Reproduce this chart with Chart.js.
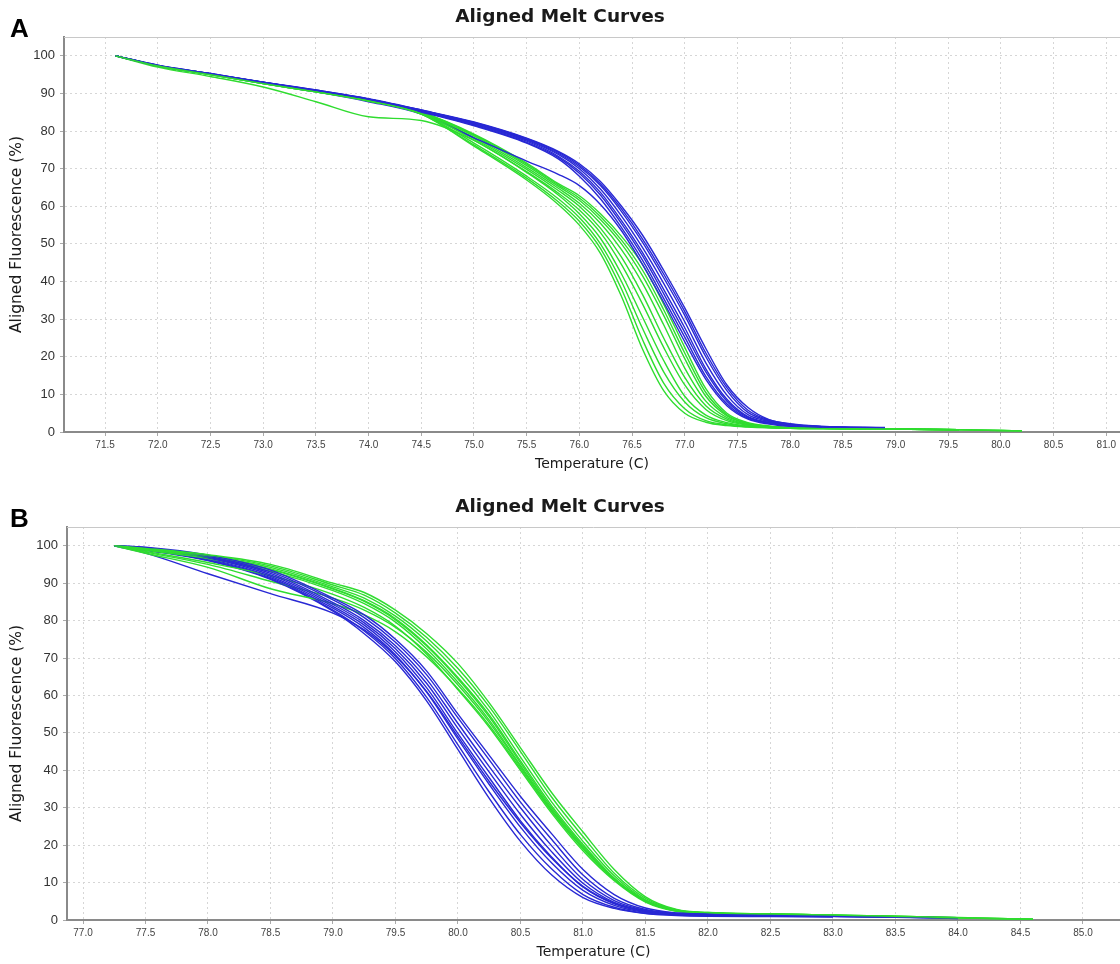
<!DOCTYPE html>
<html><head><meta charset="utf-8">
<script src="https://cdn.jsdelivr.net/npm/chart.js@4.4.0/dist/chart.umd.min.js"></script>
<style>
html,body{margin:0;padding:0;background:#fff;width:1120px;height:964px;overflow:hidden}
.wrap{position:absolute;left:0;width:1120px}
canvas{display:block}
</style></head><body>
<div class="wrap" style="top:0;height:482px"><canvas id="chartA" width="1120" height="482"></canvas></div>
<div class="wrap" style="top:490px;height:474px"><canvas id="chartB" width="1120" height="474"></canvas></div>
<script>
// ---------- Panel A data ----------
const tempsA = [71.6, 72.0, 72.5, 73.0, 73.5, 74.0, 74.5, 75.0, 75.5, 75.8, 76.0, 76.2, 76.4, 76.6, 76.8, 77.0, 77.2, 77.4, 77.6, 77.8, 78.0, 78.3, 78.9, 79.6, 80.2];
const blueA1 = [100, 97.4, 95.2, 92.9, 90.8, 88.4, 85.3, 81.8, 77.3, 73.3, 69.3, 63.7, 56.2, 47.7, 37.9, 27.7, 16.8, 8.7, 4.1, 2.6, 1.8, 1.3, 1.0, null, null];
const blueA2 = [100, 97.5, 95.3, 93.0, 90.9, 88.6, 85.6, 82.2, 77.8, 74.1, 70.5, 65.5, 58.6, 50.4, 41.0, 31.0, 20.0, 11.0, 5.2, 3.0, 2.0, 1.4, 1.1, null, null];
const blueA3 = [100, 97.3, 95.1, 92.9, 90.7, 88.5, 85.6, 82.4, 78.1, 74.6, 71.3, 66.6, 60.0, 52.3, 43.0, 33.0, 22.2, 12.5, 6.5, 3.3, 2.2, 1.5, 1.2, null, null];
const blueA4 = [100, 97.4, 95.2, 92.8, 90.6, 88.2, 85.0, 81.4, 76.8, 72.6, 68.0, 62.0, 54.3, 45.6, 35.5, 25.2, 14.8, 7.5, 3.6, 2.3, 1.6, 1.2, null, null, null];
const blueA5 = [100, 97.3, 95.0, 92.6, 90.4, 87.8, 84.5, 78.2, 72.0, 68.5, 65.5, 60.5, 53.5, 44.5, 34.5, 24.0, 14.0, 7.0, 3.4, 2.1, 1.5, 1.1, null, null, null];
const blueA6 = [100, 97.5, 95.3, 93.0, 90.9, 88.5, 85.4, 82.0, 77.6, 73.8, 70.0, 64.6, 57.4, 49.0, 39.5, 29.3, 18.4, 9.8, 4.6, 2.8, 1.9, 1.4, 1.0, null, null];
const blueA7 = [100, 97.4, 95.1, 92.8, 90.7, 88.3, 85.2, 81.6, 77.0, 73.0, 68.8, 63.0, 55.4, 46.8, 36.8, 26.5, 16.0, 8.2, 3.9, 2.5, 1.7, 1.3, 1.0, null, null];
const blueA8 = [100, 97.4, 95.2, 93.0, 90.8, 88.5, 85.5, 82.3, 78.0, 74.4, 70.9, 66.0, 59.3, 51.3, 42.0, 32.0, 21.0, 11.8, 5.8, 3.2, 2.1, 1.5, 1.1, null, null];
const greenA1 = [100, 97.3, 95.0, 92.6, 90.4, 88.0, 84.5, 76.0, 67.0, 60.5, 55.0, 47.5, 36.0, 22.0, 11.0, 5.0, 2.6, 1.7, 1.3, 1.1, 1.0, 0.9, 0.8, 0.6, null];
const greenA2 = [100, 97.3, 95.0, 92.6, 90.4, 88.0, 84.5, 76.3, 67.5, 61.2, 56.0, 48.8, 38.0, 24.5, 13.0, 6.2, 3.0, 1.9, 1.4, 1.2, 1.0, 0.9, 0.8, 0.6, null];
const greenA3 = [100, 97.3, 95.0, 92.6, 90.4, 88.1, 84.6, 76.8, 68.0, 62.0, 57.0, 50.0, 40.0, 27.5, 16.0, 8.0, 3.8, 2.2, 1.5, 1.2, 1.0, 0.9, 0.8, null, null];
const greenA4 = [100, 97.0, 94.5, 91.7, 87.8, 83.8, 82.8, 77.5, 69.0, 63.0, 58.0, 51.5, 42.0, 30.5, 19.0, 9.5, 4.5, 2.5, 1.6, 1.2, 1.0, 0.9, 0.8, 0.6, null];
const greenA5 = [100, 97.4, 95.1, 92.7, 90.5, 88.2, 84.8, 77.6, 69.2, 63.5, 59.0, 53.0, 44.5, 34.0, 22.5, 12.5, 6.0, 3.0, 1.8, 1.3, 1.1, 1.0, 0.8, 0.6, null];
const greenA6 = [100, 97.3, 95.1, 92.8, 90.6, 88.3, 84.9, 78.0, 69.8, 64.2, 60.0, 54.2, 46.5, 36.5, 25.0, 14.5, 7.0, 3.4, 1.9, 1.4, 1.1, 1.0, 0.8, null, null];
const greenA7 = [100, 97.4, 95.2, 92.8, 90.6, 88.3, 84.9, 78.3, 70.3, 64.8, 60.8, 55.5, 48.5, 39.5, 28.5, 17.0, 8.2, 3.8, 2.0, 1.4, 1.1, 1.0, 0.8, 0.6, 0.3];
const greenA8 = [100, 97.4, 95.2, 92.9, 90.7, 88.4, 85.0, 78.7, 70.8, 65.3, 61.6, 56.5, 50.0, 41.5, 31.0, 19.5, 9.5, 4.3, 2.2, 1.5, 1.1, 1.0, 0.8, 0.6, null];
const greenA9 = [100, 97.4, 95.2, 92.9, 90.7, 88.4, 85.0, 79.0, 71.2, 65.7, 62.2, 57.3, 51.0, 43.0, 32.5, 21.0, 10.5, 4.6, 2.3, 1.5, 1.2, 1.0, 0.8, 0.6, 0.3];
const greenA10 = [100, 97.4, 95.2, 92.9, 90.7, 88.4, 85.0, 79.2, 71.5, 66.0, 62.8, 58.0, 52.0, 44.5, 34.0, 22.5, 11.5, 5.0, 2.5, 1.6, 1.2, 1.0, 0.8, 0.6, 0.3];
const xTicksA = [71.5, 72.0, 72.5, 73.0, 73.5, 74.0, 74.5, 75.0, 75.5, 76.0, 76.5, 77.0, 77.5, 78.0, 78.5, 79.0, 79.5, 80.0, 80.5, 81.0];

// ---------- Panel B data ----------
const tempsB = [77.25, 77.5, 78.0, 78.5, 79.0, 79.25, 79.5, 79.75, 80.0, 80.25, 80.5, 80.75, 81.0, 81.25, 81.5, 81.75, 82.0, 82.5, 83.0, 83.5, 84.0, 84.6];
const blueB1 = [100, 99.6, 97.5, 93.5, 86.0, 81.5, 75.0, 66.5, 55.0, 44.0, 33.0, 23.0, 13.5, 6.8, 3.2, 1.9, 1.6, 1.4, 1.1, 0.8, 0.5, null];
const blueB2 = [100, 99.5, 97.2, 93.0, 85.5, 80.8, 74.2, 65.5, 54.0, 42.8, 31.5, 21.5, 12.0, 5.8, 2.8, 1.8, 1.5, 1.3, 1.0, 0.8, null, null];
const blueB3 = [100, 99.4, 97.0, 92.6, 84.8, 80.0, 73.3, 64.3, 52.5, 41.0, 30.0, 19.8, 10.8, 5.2, 2.6, 1.7, 1.5, 1.3, 1.1, 0.9, 0.6, null];
const blueB4 = [100, 99.3, 96.8, 92.2, 84.3, 79.4, 72.5, 63.2, 51.2, 39.5, 28.2, 18.2, 9.8, 4.7, 2.4, 1.6, 1.4, 1.2, 1.0, null, null, null];
const blueB5 = [100, 99.1, 96.5, 91.8, 83.8, 78.8, 71.6, 62.0, 49.8, 38.0, 26.5, 16.8, 8.8, 4.3, 2.2, 1.5, 1.3, 1.2, 1.0, 0.8, 0.5, null];
const blueB6 = [100, 99.0, 96.3, 91.5, 83.3, 78.1, 70.8, 60.8, 48.3, 36.2, 24.8, 15.2, 7.9, 3.9, 2.0, 1.4, 1.2, 1.1, 0.9, null, null, null];
const blueB7 = [100, 98.8, 96.0, 91.0, 82.5, 76.5, 69.0, 58.5, 45.5, 32.5, 21.0, 12.0, 6.0, 3.1, 1.7, 1.2, 1.0, 0.9, 0.8, null, null, null];
const blueB8 = [100, 98.0, 92.5, 87.2, 82.0, 77.5, 70.5, 61.0, 49.0, 37.0, 26.0, 16.5, 9.0, 4.5, 2.4, 1.6, 1.3, 1.1, 1.0, 0.8, null, null];
const blueB9 = [100, 98.9, 96.1, 91.2, 82.8, 77.2, 69.8, 59.5, 46.8, 34.2, 22.8, 13.6, 6.8, 3.4, 1.8, 1.3, 1.1, 1.0, 0.9, 0.7, 0.4, null];
const greenB1 = [100, 99.3, 97.6, 95.0, 90.0, 87.5, 82.8, 76.5, 68.5, 58.0, 46.0, 34.0, 23.5, 13.5, 6.2, 2.8, 2.0, 1.6, 1.3, 1.0, 0.6, 0.2];
const greenB2 = [100, 99.2, 97.4, 94.6, 89.5, 86.8, 82.0, 75.5, 67.2, 57.0, 45.0, 32.8, 22.3, 12.5, 5.8, 2.7, 2.0, 1.6, 1.3, 0.9, 0.5, 0.2];
const greenB3 = [100, 99.1, 97.2, 94.2, 89.0, 86.0, 81.2, 74.5, 66.0, 55.8, 43.5, 31.5, 21.0, 11.8, 5.4, 2.6, 1.9, 1.5, 1.2, 0.9, null, null];
const greenB4 = [100, 99.0, 97.0, 93.8, 88.6, 85.3, 80.5, 73.5, 64.8, 54.8, 42.5, 30.5, 20.2, 11.2, 5.2, 2.5, 1.9, 1.6, 1.3, 1.0, 0.6, 0.2];
const greenB5 = [100, 98.8, 96.6, 93.2, 88.0, 84.5, 79.6, 72.4, 63.5, 53.4, 41.3, 29.5, 19.4, 10.8, 5.0, 2.4, 1.8, 1.5, 1.2, 0.9, 0.5, null];
const greenB6 = [100, 98.5, 95.5, 92.0, 87.0, 83.5, 78.5, 71.0, 61.5, 51.5, 40.0, 28.5, 18.5, 10.5, 4.8, 2.3, 1.8, 1.5, 1.2, 0.9, 0.6, null];
const greenB7 = [100, 98.0, 94.2, 88.5, 84.5, 81.5, 77.0, 70.3, 61.8, 52.0, 40.5, 29.0, 19.0, 10.8, 5.0, 2.4, 1.8, 1.4, 1.1, 0.8, null, null];
const greenB8 = [100, 98.3, 95.0, 90.5, 86.0, 82.8, 78.2, 71.5, 62.8, 52.8, 41.0, 29.2, 19.2, 10.9, 5.1, 2.5, 1.9, 1.6, 1.3, 1.0, 0.7, 0.2];
const greenB9 = [100, 99.0, 96.9, 93.6, 88.4, 85.1, 80.2, 73.2, 64.4, 54.3, 42.0, 30.0, 19.8, 11.0, 5.1, 2.5, 1.9, 1.5, 1.2, 0.9, 0.5, null];
const xTicksB = [77.0, 77.5, 78.0, 78.5, 79.0, 79.5, 80.0, 80.5, 81.0, 81.5, 82.0, 82.5, 83.0, 83.5, 84.0, 84.5, 85.0];

const yTicks = [0, 10, 20, 30, 40, 50, 60, 70, 80, 90, 100];
const chartTitle = 'Aligned Melt Curves';
const xTitle = 'Temperature (C)';
const yTitle = 'Aligned Fluorescence (%)';

// ---------- drawing ----------
const BLUE = '#2828d4';
const GREEN = '#2fdc2f';
const FONT = '"Liberation Sans", Arial, sans-serif';
const DFONT = '"DejaVu Sans", Verdana, sans-serif';

function mkSeries(temps, vals, color) {
  const pts = [];
  temps.forEach((t, i) => { if (vals[i] !== null && vals[i] !== undefined) pts.push({x: t, y: vals[i]}); });
  return {data: pts, borderColor: color, borderWidth: 1.4, pointRadius: 0, pointHoverRadius: 0,
          fill: false, cubicInterpolationMode: 'monotone'};
}
function buildDatasets(temps, blues, greens) {
  const ds = [];
  const n = Math.max(blues.length, greens.length);
  for (let i = 0; i < n; i++) {
    if (greens[i]) ds.push(mkSeries(temps, greens[i], GREEN));
    if (blues[i]) ds.push(mkSeries(temps, blues[i], BLUE));
  }
  return ds;
}

const framePlugin = {
  id: 'frame',
  afterDraw(chart, args, opts) {
    const {ctx, chartArea: a} = chart;
    ctx.save();
    ctx.strokeStyle = '#c8c8c8'; ctx.lineWidth = 1;
    ctx.beginPath(); ctx.moveTo(a.left, a.top + 0.5); ctx.lineTo(a.right, a.top + 0.5); ctx.stroke();
    ctx.fillStyle = '#000';
    ctx.font = 'bold 26px ' + FONT;
    ctx.textBaseline = 'alphabetic'; ctx.textAlign = 'left';
    ctx.fillText(opts.label, opts.lx, opts.ly);
    ctx.restore();
  }
};

function makeChart(id, temps, blues, greens, xTicks, cfg) {
  return new Chart(document.getElementById(id), {
    type: 'line',
    data: {datasets: buildDatasets(temps, blues, greens)},
    plugins: [framePlugin],
    options: {
      responsive: false, animation: false, devicePixelRatio: 1,
      layout: {padding: {left: 0, right: 0, top: 0, bottom: 0}},
      events: [],
      plugins: {
        legend: {display: false}, tooltip: {enabled: false},
        title: {display: true, text: chartTitle, color: '#1a1a1a',
                font: {family: DFONT, size: 18.5, weight: 'bold', lineHeight: 1.2},
                padding: {top: 6, bottom: 8.8}},
        frame: {label: cfg.label, lx: 10, ly: 37}
      },
      scales: {
        x: {
          type: 'linear', min: cfg.xMin, max: cfg.xMax,
          afterBuildTicks: s => { s.ticks = xTicks.map(v => ({value: v})); },
          afterFit: s => { s.height = cfg.xH; },
          ticks: {callback: v => Number(v).toFixed(1), font: {family: FONT, size: 10}, color: '#444',
                  maxRotation: 0, autoSkip: false, padding: 3},
          grid: {color: '#d6d6d6', lineWidth: 1, tickLength: 4, tickColor: '#aaa', drawTicks: true},
          border: {display: true, color: '#8a8a8a', width: 2, dash: [2, 3]},
          title: {display: true, text: xTitle, color: '#1a1a1a',
                  font: {family: DFONT, size: 14, lineHeight: 1.2}, padding: {top: 0, bottom: cfg.xtPad}}
        },
        y: {
          min: 0, max: 105,
          afterBuildTicks: s => { s.ticks = yTicks.map(v => ({value: v})); },
          afterFit: s => { s.width = cfg.yW; },
          ticks: {font: {family: FONT, size: 13}, color: '#333', padding: 5},
          grid: {color: '#d6d6d6', lineWidth: 1, tickLength: 4, tickColor: '#aaa'},
          border: {display: true, color: '#8a8a8a', width: 2, dash: [2, 3]},
          title: {display: true, text: yTitle, color: '#1a1a1a',
                  font: {family: DFONT, size: 15.5, lineHeight: 1.2}, padding: {top: 8, bottom: 0}}
        }
      }
    }
  });
}

makeChart('chartA', tempsA,
  [blueA1, blueA2, blueA3, blueA4, blueA5, blueA6, blueA7, blueA8],
  [greenA1, greenA2, greenA3, greenA4, greenA5, greenA6, greenA7, greenA8, greenA9, greenA10],
  xTicksA, {label: 'A', xMin: 71.11, xMax: 81.13, xH: 50, yW: 64, xtPad: 9});

makeChart('chartB', tempsB,
  [blueB1, blueB2, blueB3, blueB4, blueB5, blueB6, blueB7, blueB8, blueB9],
  [greenB1, greenB2, greenB3, greenB4, greenB5, greenB6, greenB7, greenB8, greenB9],
  xTicksB, {label: 'B', xMin: 76.872, xMax: 85.296, xH: 44, yW: 67, xtPad: 3});
</script>
</body></html>
